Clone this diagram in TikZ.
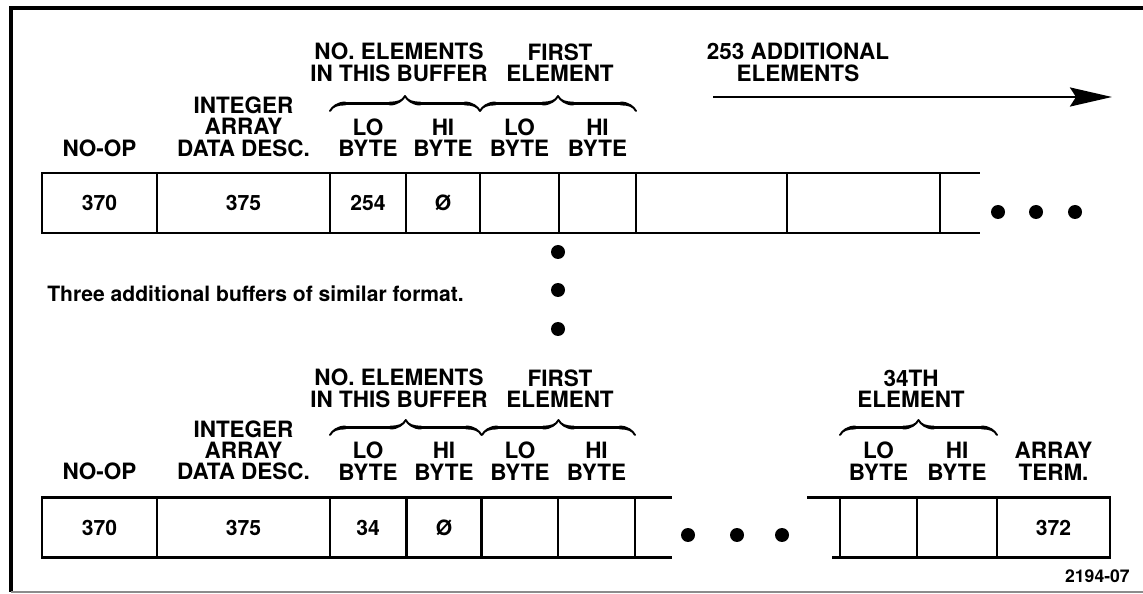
\documentclass[tikz,border=0pt]{standalone}
\usepackage{fontspec}
\setmainfont{TeX Gyre Heros}
\usetikzlibrary{arrows.meta, decorations.pathreplacing, calligraphy, positioning}

\begin{document}
\begin{tikzpicture}[
    x=0.02cm, y=-0.02cm,
    font=\fontsize{12}{12.4}\selectfont\bfseries,
    cell/.style={
        rectangle, draw=black, line width=1.6pt,
        minimum height=1.2cm, inner sep=0pt, outer sep=0pt
    },
    head/.style={
        align=center, inner sep=0pt,
        font=\fontsize{12.8}{12.2}\selectfont\bfseries
    },
    dot/.style={circle, fill=black, inner sep=0pt, minimum size=0.28cm},
    grouping/.style={decorate, decoration={calligraphic brace, amplitude=0.3cm}, line width=2.2pt},
    line/.style={draw=black, line width=1.6pt}
]
\useasboundingbox (0,0) rectangle (1143,594);

% frame
\draw[line width=2.3pt] (1143,8) -- (11,8) -- (11,592);
\draw[black!45, line width=0.8pt] (11,592) -- (1143,592);

% 1. FIRST BUFFER
\node[cell, minimum width=2.3cm] (nop1) at (99.5,203) {370};
\node[cell, minimum width=3.46cm] (desc1) at (243.5,203) {375};
\node[cell, minimum width=1.52cm] (cntlo1) at (368,203) {254};
\node[cell, minimum width=1.48cm] (cnthi1) at (443,203) {Ø};
\node[cell, minimum width=1.58cm] (firstlo1) at (519.5,203) {};
\node[cell, minimum width=1.54cm] (firsthi1) at (597.5,203) {};
\node[cell, minimum width=3.02cm] (elema1) at (711.5,203) {};
\node[cell, minimum width=3.06cm] (elemb1) at (863.5,203) {};
\coordinate (tailtop1) at (elemb1.north east -| 980,0);
\coordinate (tailbot1) at (elemb1.south east -| 980,0);
\draw[line] (elemb1.north east) -- (tailtop1);
\draw[line] (elemb1.south east) -- (tailbot1);

% Buffer 1 headings
\node[head, above=0.32cm of nop1] (nopl1) {NO-OP};
\node[head, above=0.32cm of desc1] (descl1) {INTEGER\\ARRAY\\DATA DESC.};
\node[head, above=0.32cm of cntlo1] (cntlol1) {LO\\BYTE};
\node[head, above=0.32cm of cnthi1] (cnthil1) {HI\\BYTE};
\node[head, above=0.32cm of firstlo1] (firstlol1) {LO\\BYTE};
\node[head, above=0.32cm of firsthi1] (firsthil1) {HI\\BYTE};
\node[head, anchor=south] (cntl1) at (399,82) {NO. ELEMENTS\\IN THIS BUFFER};
\node[head, anchor=south] (firstl1) at (560,82) {FIRST\\ELEMENT};
\node[head, anchor=south] (more) at (798,82) {253 ADDITIONAL\\ELEMENTS};
\draw[grouping] ([yshift=1.24cm]cntlo1.north west) -- ([yshift=1.24cm]cnthi1.north east);
\draw[grouping] ([yshift=1.24cm]firstlo1.north west) -- ([yshift=1.24cm]firsthi1.north east);
\coordinate (arrowstart) at (713,97);
\coordinate (arrowend) at (1112,97);
\draw[line, -{Stealth[length=0.84cm, width=0.38cm, inset=0.12cm]}] (arrowstart) -- (arrowend);

\node[dot] (etca1) at (998,212) {};
\node[dot] (etcb1) at (1036,212) {};
\node[dot] (etcc1) at (1075,212) {};

% 2. OTHER BUFFERS
\node[dot] (skipa) at (558,252) {};
\node[dot] (skipb) at (558,290) {};
\node[dot] (skipc) at (558,329) {};
\node[anchor=base west, inner sep=0pt] (note) at (47,302) {Three additional buffers of similar format.};

% 3. LAST BUFFER
\node[cell, minimum width=2.3cm] (nop2) at (99.5,527.5) {370};
\node[cell, minimum width=3.46cm] (desc2) at (243.5,527.5) {375};
\node[cell, minimum width=1.52cm] (cntlo2) at (368,527.5) {34};
\node[cell, minimum width=1.5cm] (cnthi2) at (444,527.5) {Ø};
\node[cell, minimum width=1.52cm] (firstlo2) at (520,527.5) {};
\node[cell, minimum width=1.54cm] (firsthi2) at (596.5,527.5) {};
\coordinate (tailtop2) at (firsthi2.north east -| 672,0);
\coordinate (tailbot2) at (firsthi2.south east -| 672,0);
\draw[line] (firsthi2.north east) -- (tailtop2);
\draw[line] (firsthi2.south east) -- (tailbot2);

\node[cell, minimum width=1.54cm] (lastlo2) at (878.5,527.5) {};
\node[cell, minimum width=1.6cm] (lasthi2) at (957,527.5) {};
\node[cell, minimum width=2.26cm] (term2) at (1053.5,527.5) {372};
\coordinate (leadtop2) at (lastlo2.north west -| 807,0);
\coordinate (leadbot2) at (lastlo2.south west -| 832,0);
\draw[line] (leadtop2) -- (lastlo2.north west);
\draw[line] (leadbot2) -- (lastlo2.south west);

\node[dot] (etca2) at (688,535) {};
\node[dot] (etcb2) at (737,535) {};
\node[dot] (etcc2) at (782,535) {};

% Buffer 2 headings
\node[head, above=0.34cm of nop2] (nopl2) {NO-OP};
\node[head, above=0.34cm of desc2] (descl2) {INTEGER\\ARRAY\\DATA DESC.};
\node[head, above=0.34cm of cntlo2] (cntlol2) {LO\\BYTE};
\node[head, above=0.34cm of cnthi2] (cnthil2) {HI\\BYTE};
\node[head, above=0.34cm of firstlo2] (firstlol2) {LO\\BYTE};
\node[head, above=0.34cm of firsthi2] (firsthil2) {HI\\BYTE};
\node[head, above=0.34cm of lastlo2] (lastlol2) {LO\\BYTE};
\node[head, above=0.34cm of lasthi2] (lasthil2) {HI\\BYTE};
\node[head, above=0.34cm of term2] (terml2) {ARRAY\\TERM.};
\node[head, anchor=south] (cntl2) at (399,408) {NO. ELEMENTS\\IN THIS BUFFER};
\node[head, anchor=south] (firstl2) at (560,408) {FIRST\\ELEMENT};
\node[head, anchor=south] (lastl2) at (911,408) {34TH\\ELEMENT};
\draw[grouping] ([yshift=1.25cm]cntlo2.north west) -- ([yshift=1.25cm]cnthi2.north east);
\draw[grouping] ([yshift=1.25cm]firstlo2.north west) -- ([yshift=1.25cm]firsthi2.north east);
\draw[grouping] ([yshift=1.25cm]lastlo2.north west) -- ([yshift=1.25cm]lasthi2.north east);

\node[anchor=base east, inner sep=0pt, font=\fontsize{10}{12}\selectfont\bfseries] (figno) at (1130,582) {2194-07};

\end{tikzpicture}
\end{document}
